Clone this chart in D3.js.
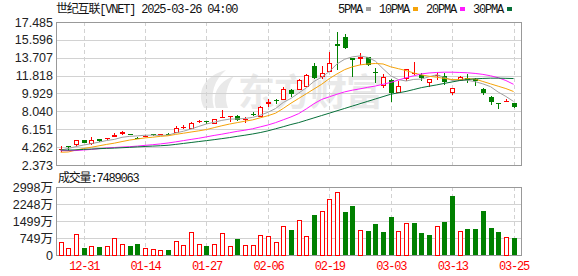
<!DOCTYPE html>
<html><head><meta charset="utf-8">
<script src="https://cdn.jsdelivr.net/npm/d3@7"></script>
<style>html,body{margin:0;padding:0;background:#fff;} svg{display:block;}</style>
</head><body><svg id="c" width="578" height="276"></svg>
<script>
const dates = ["12-26","12-27","12-30","12-31","01-02","01-03","01-06","01-07","01-08","01-10","01-13","01-14","01-15","01-16","01-17","01-21","01-22","01-23","01-24","01-27","01-28","01-29","01-30","01-31","02-03","02-04","02-05","02-06","02-07","02-10","02-11","02-12","02-13","02-14","02-18","02-19","02-20","02-21","02-24","02-25","02-26","02-27","02-28","03-03","03-04","03-05","03-06","03-07","03-10","03-11","03-12","03-13","03-14","03-17","03-18","03-19","03-20","03-21","03-24","03-25"];
const open  = [4.05,4.33,4.57,5.02,4.67,5.09,5.13,5.37,5.60,5.62,5.23,5.46,5.68,5.64,5.68,5.90,6.40,6.26,6.90,6.98,6.79,7.40,7.48,7.56,7.18,7.80,7.56,8.80,9.25,9.39,10.32,10.45,10.74,12.83,11.83,12.30,15.20,15.90,13.65,13.60,13.74,12.15,10.85,11.38,10.14,11.52,12.00,11.90,11.10,11.75,11.80,10.13,11.35,11.55,11.45,10.43,9.61,8.93,9.05,8.90];
const high  = [4.38,4.34,5.02,5.05,5.31,5.12,5.27,5.75,5.93,5.68,5.30,5.58,5.69,5.69,5.72,6.50,6.55,6.95,7.08,7.00,7.21,8.20,7.52,7.62,7.40,7.95,8.60,9.33,9.35,10.60,10.45,11.50,12.00,13.10,12.80,14.30,16.40,16.20,13.72,14.20,13.80,12.60,12.00,11.45,11.20,12.55,13.30,12.10,11.50,12.20,12.10,10.55,11.80,11.95,11.55,10.55,9.70,8.95,9.40,8.95];
const low   = [3.78,3.89,4.31,4.70,4.49,4.85,5.05,5.34,5.50,5.50,5.13,5.30,5.45,5.50,5.60,5.73,6.15,6.18,6.85,6.70,6.75,7.38,6.90,7.05,6.80,7.55,7.40,8.50,8.85,9.20,9.60,10.30,10.60,11.45,11.50,12.20,12.40,14.60,11.70,12.90,12.80,11.00,10.50,9.08,9.97,11.20,11.90,11.20,10.65,11.40,10.85,9.79,11.30,11.00,10.75,9.80,8.73,8.27,9.02,8.38];
const close = [4.10,4.31,4.99,4.73,5.02,4.88,5.18,5.58,5.83,5.52,5.16,5.49,5.66,5.67,5.66,6.30,6.43,6.85,7.03,6.92,7.21,7.42,7.50,7.14,7.20,7.74,8.55,9.08,9.12,10.43,9.89,11.35,11.87,11.55,12.08,13.10,14.95,14.77,13.50,13.75,12.97,12.10,11.72,10.03,10.74,12.50,12.10,11.60,11.45,11.90,11.10,10.50,11.72,11.40,11.20,9.93,9.02,8.83,9.12,8.55];
const volume = [5570000,2940000,9090000,3070000,3950000,3510000,3950000,7330000,4700000,3950000,4830000,2940000,2500000,2060000,2190000,6010000,4390000,9960000,4700000,3950000,4700000,9520000,3950000,7020000,4390000,4390000,8650000,8340000,5710000,12600000,10970000,15230000,8340000,17560000,19180000,24580000,27960000,18870000,21510000,10840000,10530000,13610000,10100000,16680000,10530000,13910000,14050000,9660000,8780000,12600000,14490000,25900000,10400000,11410000,11410000,19310000,11850000,10100000,7900000,7489063];
const ma5  = [3.95,4.12,4.32,4.48,4.63,4.79,4.96,5.08,5.30,5.40,5.45,5.52,5.53,5.50,5.53,5.76,5.94,6.18,6.45,6.71,6.89,7.09,7.22,7.24,7.29,7.40,7.63,7.94,8.34,8.98,9.41,9.97,10.53,11.20,11.65,12.25,13.05,13.55,13.80,13.90,13.75,13.35,12.55,11.80,11.40,11.25,11.42,11.45,11.70,11.91,11.63,11.31,11.33,11.32,11.18,10.95,10.65,10.08,9.62,9.09];
const ma10 = [3.72,3.75,3.95,4.12,4.25,4.40,4.55,4.68,4.85,5.01,5.12,5.24,5.31,5.40,5.46,5.61,5.73,5.86,5.98,6.12,6.32,6.52,6.70,6.85,7.00,7.14,7.36,7.58,7.85,8.35,8.90,9.40,9.90,10.40,10.90,11.50,12.00,12.45,12.75,12.95,13.05,13.10,13.05,12.75,12.55,12.35,12.10,11.90,11.75,11.65,11.52,11.40,11.40,11.50,11.45,11.20,10.95,10.70,10.45,10.14];
const ma20 = [3.89,3.89,3.90,3.96,4.02,4.10,4.17,4.22,4.27,4.31,4.37,4.45,4.52,4.60,4.70,4.82,4.95,5.08,5.20,5.35,5.50,5.63,5.78,5.93,6.05,6.20,6.40,6.60,6.85,7.15,7.45,7.80,8.30,8.85,9.30,9.58,9.85,10.10,10.28,10.42,10.58,10.72,10.90,11.10,11.35,11.60,11.80,12.00,12.10,12.15,12.18,12.18,12.15,12.12,12.05,11.95,11.80,11.60,11.30,10.90];
const ma30 = [3.96,3.95,3.97,4.02,4.06,4.10,4.13,4.16,4.20,4.24,4.29,4.33,4.37,4.41,4.46,4.55,4.65,4.75,4.85,4.95,5.05,5.16,5.27,5.40,5.52,5.65,5.80,5.98,6.20,6.42,6.65,6.85,7.10,7.35,7.60,7.85,8.10,8.35,8.60,8.85,9.10,9.35,9.60,9.85,10.00,10.15,10.35,10.55,10.70,10.84,11.00,11.15,11.30,11.40,11.48,11.52,11.55,11.55,11.53,11.51];
const priceTicks = [2.373,4.262,6.151,8.040,9.929,11.818,13.707,15.596,17.485];
const priceTickLabels = ["2.373","4.262","6.151","8.040","9.929","11.818","13.707","15.596","17.485"];
const volTicks = [0,7495000,14990000,22485000,29980000];
const volTickLabels = ["0","749万","1499万","2248万","2998万"];
const xLabelDates = ["12-31","01-14","01-27","02-06","02-19","03-03","03-13","03-25"];
const maNames = ["5PMA","10PMA","20PMA","30PMA"];
const titleText = "世纪互联[VNET] 2025-03-26 04:00";
const volTitle = "成交量:" + volume[volume.length-1];

const C = {red:"#ff0000", green:"#008000", grid:"#d2d2d2", frame:"#999999",
           ma:["#a0a0a0","#f5a30a","#ff1aff","#07703a"], text:"#222", wm:"#e9e9e9"};
const L = 56, R = 522, PT = 22, PB = 165, VT = 187, VB = 255;
const svg = d3.select("#c");
const x = d3.scaleLinear().domain([-0.6, 60.1]).range([L, R]);
const y = d3.scaleLinear().domain([priceTicks[0], priceTicks[priceTicks.length-1]]).range([PB, PT]);
const yv = d3.scaleLinear().domain([0, volTicks[volTicks.length-1]]).range([VB, VT]);
const crisp = v => Math.round(v) + 0.5;
const monoFont = "'Liberation Mono','DejaVu Sans Mono','Noto Sans CJK SC',monospace";

// watermark (logo + text)
const wm = svg.append("g").attr("fill",C.wm);
wm.append("path").attr("d","M204,108 C196,92 204,76 226,70 C214,80 210,94 214,108 Z");
wm.append("path").attr("d","M216,108 C212,94 218,82 234,76 C226,86 224,98 228,108 Z");
wm.append("text").attr("x",238).attr("y",106).text("东方财富")
  .attr("font-family","'Noto Sans CJK SC'").attr("font-size",37).attr("font-weight","bold")
  .attr("letter-spacing","-1");

// horizontal grid
const g = svg.append("g").attr("shape-rendering","crispEdges");
g.selectAll("line.hp").data(priceTicks.slice(1,-1)).join("line")
  .attr("x1",L).attr("x2",R).attr("y1",d=>crisp(y(d))).attr("y2",d=>crisp(y(d)))
  .attr("stroke",C.grid);
g.selectAll("line.hv").data(volTicks.slice(1,-1)).join("line").attr("class","hv")
  .attr("x1",L).attr("x2",R).attr("y1",d=>crisp(yv(d))).attr("y2",d=>crisp(yv(d)))
  .attr("stroke",C.grid);
// vertical dashed grid
const labelIdx = xLabelDates.map(d => dates.indexOf(d));
[[PT,PB],[VT,VB]].forEach(([a,b])=>{
  g.append("g").selectAll("line").data(labelIdx).join("line")
   .attr("x1",i=>crisp(x(i))).attr("x2",i=>crisp(x(i))).attr("y1",a).attr("y2",b)
   .attr("stroke",C.grid).attr("stroke-dasharray","4,3");
});

// frames
const fr = svg.append("g").attr("shape-rendering","crispEdges").attr("fill","none").attr("stroke",C.frame);
fr.append("rect").attr("x",L+0.5).attr("y",PT+0.5).attr("width",R-L-1).attr("height",PB-PT);
fr.append("rect").attr("x",L+0.5).attr("y",VT+0.5).attr("width",R-L-1).attr("height",VB-VT);

// candles
const cg = svg.append("g").attr("shape-rendering","crispEdges");
d3.range(dates.length).forEach(i=>{
  const cx = Math.round(x(i));
  const up = close[i] >= open[i];
  const col = up ? C.red : C.green;
  const top = Math.round(y(Math.max(open[i],close[i])));
  const bot = Math.round(y(Math.min(open[i],close[i])));
  const yh = Math.round(y(high[i])), yl = Math.round(y(low[i]));
  if (up && bot - top >= 3) {
    cg.append("line").attr("x1",cx+0.5).attr("x2",cx+0.5).attr("y1",yh).attr("y2",top).attr("stroke",col);
    cg.append("line").attr("x1",cx+0.5).attr("x2",cx+0.5).attr("y1",bot+1).attr("y2",yl).attr("stroke",col);
    cg.append("rect").attr("x",cx-1.5).attr("y",top+0.5).attr("width",4).attr("height",bot-top)
      .attr("fill","#fff").attr("stroke",col);
  } else {
    cg.append("line").attr("x1",cx+0.5).attr("x2",cx+0.5).attr("y1",yh).attr("y2",yl).attr("stroke",col);
    cg.append("rect").attr("x",cx-2).attr("y",top).attr("width",5).attr("height",Math.max(1,bot-top))
      .attr("fill",col);
  }
});

// volume bars
const vg = svg.append("g").attr("shape-rendering","crispEdges");
d3.range(dates.length).forEach(i=>{
  const cx = Math.round(x(i));
  const up = i === 0 ? true : close[i] >= close[i-1];
  const t = Math.round(yv(volume[i]));
  if (up) {
    vg.append("rect").attr("x",cx-1.5).attr("y",t+0.5).attr("width",4).attr("height",VB-t-0.5)
      .attr("fill","#fff").attr("stroke",C.red);
  } else {
    vg.append("rect").attr("x",cx-2).attr("y",t).attr("width",5).attr("height",VB-t).attr("fill",C.green);
  }
});

// moving averages
const line = d3.line().x((d,i)=>x(i)).y(d=>y(d));
[ma5,ma10,ma20,ma30].forEach((arr,k)=>{
  svg.append("path").datum(arr).attr("d",line).attr("fill","none")
    .attr("stroke",C.ma[k]).attr("stroke-width",1);
});

// axes
const ya = svg.append("g").attr("transform",`translate(${L},0)`)
  .call(d3.axisLeft(y).tickValues(priceTicks).tickFormat((d,i)=>priceTickLabels[i]).tickSize(0).tickPadding(3));
const yva = svg.append("g").attr("transform",`translate(${L},0)`)
  .call(d3.axisLeft(yv).tickValues(volTicks).tickFormat((d,i)=>volTickLabels[i]).tickSize(0).tickPadding(3));
[ya,yva].forEach(a=>{
  a.select(".domain").remove();
  a.selectAll("text").attr("fill",C.text).attr("font-size",12.5)
   .attr("font-family","'Liberation Sans','Noto Sans CJK SC',sans-serif");
});
const xa = svg.append("g").attr("transform",`translate(0,${VB})`)
  .call(d3.axisBottom(x).tickValues(labelIdx).tickFormat(i=>dates[i]).tickSize(0).tickPadding(6));
xa.select(".domain").remove();
xa.selectAll("text").attr("fill",C.red).attr("font-size",12).attr("font-family",monoFont)
  .attr("letter-spacing","-1.2");

// title
svg.append("text").attr("x",L).attr("y",13).attr("fill","#111")
  .attr("font-size",12).attr("font-family",monoFont).attr("letter-spacing","-1.2").text(titleText);
// volume title
svg.append("text").attr("x",L+2).attr("y",182).attr("fill","#111")
  .attr("font-size",12).attr("font-family",monoFont).attr("letter-spacing","-1.2").text(volTitle);

// legend
let lx = 338;
maNames.forEach((n,k)=>{
  const t = svg.append("text").attr("x",lx).attr("y",13).attr("fill","#111")
    .attr("font-size",12).attr("font-family",monoFont).attr("letter-spacing","-1.2").text(n);
  const w = t.node().getComputedTextLength();
  svg.append("rect").attr("x",Math.round(lx+w+4)).attr("y",7).attr("width",5).attr("height",4).attr("fill",C.ma[k]);
  lx = Math.round(lx+w+4) + 5 + 8;
});
</script></body></html>
